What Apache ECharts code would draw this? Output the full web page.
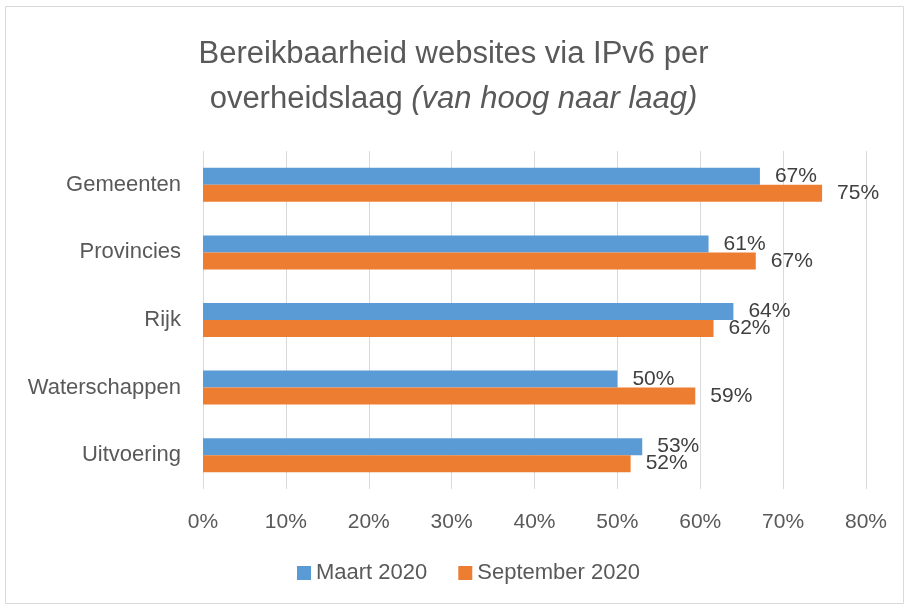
<!DOCTYPE html>
<html>
<head>
<meta charset="utf-8">
<script src="https://cdn.jsdelivr.net/npm/echarts@6/dist/echarts.min.js"></script>
<style>
  html, body { margin: 0; padding: 0; background: #fff; }
  #main { width: 907px; height: 607px; }
</style>
</head>
<body>
<div id="main"></div>
<script>
// data
var categories = ["Gemeenten", "Provincies", "Rijk", "Waterschappen", "Uitvoering"];
var maart2020 = [67.2, 61, 64, 50, 53];
var september2020 = [74.7, 66.7, 61.6, 59.4, 51.6];
var seriesNames = ["Maart 2020", "September 2020"];
var tickValues = [0, 10, 20, 30, 40, 50, 60, 70, 80];

var font = "Liberation Sans";
var grey = "#595959";

var myChart = echarts.init(document.getElementById("main"));

var option = {
  backgroundColor: "#fff",
  animation: false,
  graphic: [{
    type: "rect",
    shape: { x: 5.5, y: 6.5, width: 898, height: 597 },
    style: { fill: "none", stroke: "#d9d9d9", lineWidth: 1 },
    silent: true
  }],
  title: {
    left: "center",
    top: 27,
    text: "{n|Bereikbaarheid websites via IPv6 per}\n{n|overheidslaag }{i|(van hoog naar laag)}",
    textStyle: {
      fontWeight: "normal",
      rich: {
        n: { fontFamily: font, fontSize: 31, fontWeight: "normal", color: grey, lineHeight: 45 },
        i: { fontFamily: font, fontSize: 31, fontWeight: "normal", color: grey, lineHeight: 45, fontStyle: "italic" }
      }
    }
  },
  legend: {
    bottom: 18,
    left: 292,
    itemWidth: 14,
    itemHeight: 14,
    itemGap: 31,
    icon: "rect",
    textStyle: { fontFamily: font, fontSize: 22, color: grey },
    data: seriesNames
  },
  grid: { left: 203, right: 41, top: 151, bottom: 118, containLabel: false },
  xAxis: {
    type: "value",
    min: 0,
    max: 80,
    interval: 10,
    axisLine: { show: false },
    axisTick: { show: false },
    splitLine: { lineStyle: { color: "#d9d9d9", width: 1 } },
    axisLabel: {
      fontFamily: font, fontSize: 21, color: grey, margin: 23,
      formatter: function (v) { return tickValues.indexOf(v) >= 0 ? v + "%" : ""; }
    }
  },
  yAxis: {
    type: "category",
    inverse: true,
    data: categories,
    axisLine: { show: false },
    axisTick: { show: false },
    axisLabel: { fontFamily: font, fontSize: 22, color: grey, margin: 22 }
  },
  series: [
    {
      name: seriesNames[0],
      type: "bar",
      data: maart2020,
      barWidth: 17,
      barGap: "0%",
      itemStyle: { color: "#5B9BD5" },
      label: {
        show: true, position: "right", distance: 15,
        fontFamily: font, fontSize: 21, color: "#404040",
        formatter: function (p) { return Math.round(p.value) + "%"; }
      }
    },
    {
      name: seriesNames[1],
      type: "bar",
      data: september2020,
      barWidth: 17,
      barGap: "0%",
      itemStyle: { color: "#ED7D31" },
      label: {
        show: true, position: "right", distance: 15,
        fontFamily: font, fontSize: 21, color: "#404040",
        formatter: function (p) { return Math.round(p.value) + "%"; }
      }
    }
  ]
};

myChart.setOption(option);
</script>
</body>
</html>
